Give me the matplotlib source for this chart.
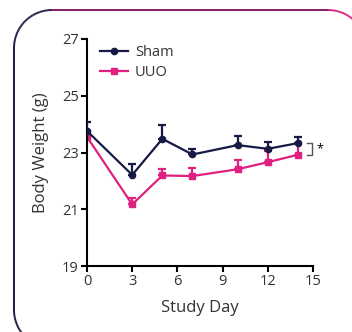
import numpy as np
import matplotlib
matplotlib.use('Agg')
import matplotlib.pyplot as plt
from matplotlib.collections import LineCollection
from matplotlib.colors import LinearSegmentedColormap
from matplotlib.lines import Line2D

## Data
days = [0, 3, 5, 7, 10, 12, 14]
sham_mean = [23.76, 22.21, 23.48, 22.93, 23.26, 23.13, 23.33]
sham_err = [0.33, 0.39, 0.50, 0.19, 0.32, 0.25, 0.23]
uuo_mean = [23.55, 21.17, 22.19, 22.17, 22.41, 22.66, 22.92]
uuo_err = [0.10, 0.21, 0.23, 0.28, 0.33, 0.41, 0.41]

x_ticks = [0, 3, 6, 9, 12, 15]
y_ticks = [19, 21, 23, 25, 27]

NAVY = '#161a45'
PINK = '#e0207f'
GREY = '#555555'
TEXT = '#333333'

plt.rcParams['font.family'] = ['Open Sans', 'DejaVu Sans']

W, H = 352, 332
fig = plt.figure(figsize=(W / 100, H / 100), dpi=100)

## Rounded frame with navy -> pink gradient
def rounded_rect(x0, y0, x1, y1, r, n=30):
  pts = []
  corners = [(x1 - r, y0 + r, -90, 0), (x1 - r, y1 - r, 0, 90),
             (x0 + r, y1 - r, 90, 180), (x0 + r, y0 + r, 180, 270)]
  for cx, cy, a0, a1 in corners:
    t = np.deg2rad(np.linspace(a0, a1, n))
    pts.extend(zip(cx + r * np.cos(t), cy + r * np.sin(t)))
  pts.append(pts[0])
  return np.array(pts)

pts = rounded_rect(14, 10, 366, 348, 38)
fx = pts[:, 0] / W
fy = 1 - pts[:, 1] / H
segs = np.stack([np.column_stack([fx[:-1], fy[:-1]]), np.column_stack([fx[1:], fy[1:]])], axis=1)
cmap = LinearSegmentedColormap.from_list('frame', [NAVY, PINK])
lc = LineCollection(segs, cmap=cmap, linewidths=1.4, transform=fig.transFigure)
lc.set_array((fx[:-1] + fx[1:]) / 2)
lc.set_clim(0.05, 0.95)
fig.add_artist(lc)

ax = fig.add_axes([87 / W, 1 - 266 / H, (313 - 87) / W, (266 - 39) / H])

ax.errorbar(days, sham_mean, yerr=[np.zeros(len(sham_err)), sham_err], color=NAVY,
            marker='o', markersize=4.5, lw=1.6, capsize=3, capthick=1.6, elinewidth=1.6,
            zorder=3)
ax.errorbar(days, uuo_mean, yerr=[np.zeros(len(uuo_err)), uuo_err], color=PINK,
            marker='s', markersize=4.5, lw=1.6, capsize=3, capthick=1.6, elinewidth=1.6,
            zorder=2)

## Significance bracket
y_top, y_bot = sham_mean[-1], uuo_mean[-1]
bx0, bx1 = 14.6, 14.93
ax.plot([bx0, bx1, bx1, bx0], [y_top, y_top, y_bot, y_bot], color=GREY, lw=1.0, clip_on=False)
ax.text(15.45, (y_top + y_bot) / 2, '*', ha='center', va='center', fontsize=9, color='black')

ax.set_xlim(0, 15)
ax.set_ylim(19, 27)
ax.set_xticks(x_ticks)
ax.set_yticks(y_ticks)
for side in ['top', 'right']:
  ax.spines[side].set_visible(False)
for side in ['left', 'bottom']:
  ax.spines[side].set_linewidth(1.5)
ax.tick_params(direction='out', length=4, width=1.5, labelsize=10.5, colors='black',
               labelcolor=TEXT, pad=2)
ax.set_xlabel('Study Day', fontsize=12, color=TEXT, labelpad=8)
ax.set_ylabel('Body Weight (g)', fontsize=12, color=TEXT, labelpad=9)

handles = [Line2D([], [], color=NAVY, marker='o', markersize=4.5, lw=1.6),
           Line2D([], [], color=PINK, marker='s', markersize=4.5, lw=1.6)]
ax.legend(handles, ['Sham', 'UUO'], loc='upper left', bbox_to_anchor=(0.0, 1.03),
          frameon=False, fontsize=10.5, handlelength=1.9, handletextpad=0.5,
          labelspacing=0.3, labelcolor=TEXT)

fig.savefig('out.png', dpi=100)
